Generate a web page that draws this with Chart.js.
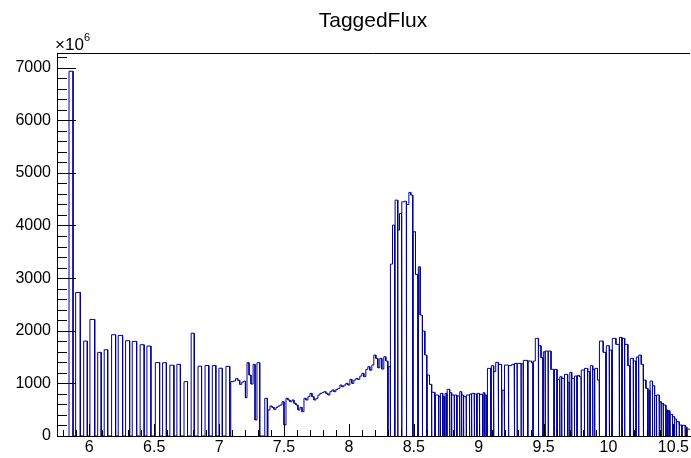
<!DOCTYPE html>
<html>
<head>
<meta charset="utf-8">
<script src="https://cdn.jsdelivr.net/npm/chart.js@4.4.0/dist/chart.umd.min.js"></script>
<style>
  html, body { margin: 0; padding: 0; background: #fff; }
</style>
</head>
<body>
<canvas id="c" width="691" height="458"></canvas>
<script>
// tagged photon flux (x10^6) vs beam energy
// bins are [low edge, high edge, flux]; gaps between bins are empty bins
const lowComb = [
  [5.844, 5.875, 6930], [5.895, 5.931, 2728], [5.957, 5.985, 1804], [6.005, 6.042, 2215],
  [6.065, 6.092, 1589], [6.115, 6.142, 1639], [6.172, 6.203, 1924], [6.223, 6.257, 1911],
  [6.280, 6.311, 1810], [6.331, 6.365, 1797], [6.392, 6.423, 1734], [6.444, 6.475, 1709],
  [6.509, 6.542, 1395], [6.565, 6.594, 1392], [6.621, 6.652, 1345], [6.675, 6.702, 1361],
  [6.730, 6.757, 1032], [6.785, 6.809, 1953], [6.838, 6.865, 1326], [6.892, 6.921, 1339],
  [6.948, 6.975, 1339], [6.999, 7.025, 1288], [7.053, 7.082, 1323]
]

const plateau = [
  [7.090, 7.108, 1032], [7.108, 7.126, 1044], [7.126, 7.144, 1089], [7.144, 7.159, 1057],
  [7.159, 7.175, 982], [7.175, 7.190, 1025], [7.190, 7.203, 1044], [7.203, 7.215, 727],
  [7.215, 7.231, 1392], [7.231, 7.246, 1158], [7.246, 7.262, 987], [7.262, 7.277, 1361],
  [7.277, 7.292, 304], [7.292, 7.313, 1392],
  [7.352, 7.372, 716]
]

// continuous stretch with fixed bin width
const rampStart = 7.377
const rampBin = 0.01538
const rampFlux = [
  494, 570, 545, 507, 545, 570, 589, 651, 209, 716,
  684, 651, 684, 621, 589, 494, 545, 462, 716, 684,
  747, 810, 747, 684, 716, 779, 810, 823, 842, 810,
  779, 842, 874, 842, 886, 905, 968, 937, 968, 1000,
  968, 1076, 1000, 1063, 1095, 1076, 1139, 1190, 1127, 1266,
  1317, 1250, 1348, 1538, 1475, 1297, 1475, 1272, 1506, 1424
]

const peak = [
  [8.302, 8.318, 1316], [8.321, 8.336, 3266], [8.336, 8.352, 4007], [8.356, 8.375, 4482],
  [8.378, 8.390, 3912], [8.390, 8.405, 4229], [8.409, 8.426, 4450], [8.426, 8.442, 4460],
  [8.445, 8.462, 4400], [8.462, 8.477, 4628], [8.477, 8.492, 4577], [8.495, 8.513, 3880],
  [8.513, 8.532, 3071], [8.535, 8.549, 3215], [8.549, 8.565, 2298], [8.568, 8.585, 1994],
  [8.585, 8.600, 1538], [8.603, 8.621, 1158], [8.621, 8.636, 982], [8.639, 8.662, 830]
]

const shelf = [
  [8.666, 8.690, 779], [8.693, 8.703, 747], [8.706, 8.723, 810], [8.727, 8.738, 747],
  [8.741, 8.754, 810], [8.757, 8.775, 886], [8.778, 8.790, 823], [8.793, 8.811, 779],
  [8.814, 8.831, 779], [8.834, 8.852, 760], [8.855, 8.867, 842], [8.870, 8.882, 779],
  [8.885, 8.903, 747], [8.906, 8.928, 779], [8.931, 8.944, 798], [8.947, 8.965, 810],
  [8.968, 8.985, 798], [8.988, 9.005, 810], [9.008, 9.031, 791], [9.034, 9.046, 823],
  [9.049, 9.062, 779], [9.064, 9.069, 810]
]

const highComb = [
  [9.069, 9.093, 1285], [9.097, 9.113, 1336], [9.117, 9.131, 1222], [9.131, 9.150, 1399],
  [9.154, 9.176, 1361], [9.180, 9.196, 870], [9.200, 9.228, 1348], [9.232, 9.254, 1336],
  [9.254, 9.273, 1361], [9.277, 9.295, 1380], [9.298, 9.326, 1380], [9.328, 9.342, 1370],
  [9.345, 9.377, 1437], [9.380, 9.408, 1424], [9.408, 9.418, 1390], [9.421, 9.436, 1424],
  [9.436, 9.459, 1855], [9.462, 9.480, 1715], [9.480, 9.495, 1487], [9.498, 9.511, 1601],
  [9.514, 9.534, 1614], [9.537, 9.557, 1614], [9.557, 9.580, 1266], [9.583, 9.603, 1266],
  [9.606, 9.623, 1076], [9.626, 9.638, 1127], [9.641, 9.659, 1095], [9.662, 9.685, 1171],
  [9.688, 9.700, 1019], [9.703, 9.715, 1209], [9.718, 9.736, 1095], [9.739, 9.757, 1139],
  [9.760, 9.775, 1150], [9.775, 9.788, 1127], [9.791, 9.813, 1253], [9.816, 9.838, 1285],
  [9.841, 9.857, 1222], [9.860, 9.877, 1336], [9.880, 9.892, 1260], [9.895, 9.915, 1285],
  [9.915, 9.928, 1063], [9.931, 9.959, 1804], [9.959, 9.980, 1589], [9.983, 10.005, 1715],
  [10.008, 10.026, 1633], [10.029, 10.057, 1855], [10.057, 10.082, 1741], [10.085, 10.103, 1874],
  [10.106, 10.123, 1855], [10.126, 10.149, 1741], [10.149, 10.165, 1336], [10.168, 10.190, 1475],
  [10.193, 10.211, 1424], [10.214, 10.231, 1500], [10.234, 10.252, 1538], [10.252, 10.267, 1361],
  [10.270, 10.288, 1063], [10.288, 10.303, 905], [10.305, 10.318, 874], [10.320, 10.338, 1044],
  [10.340, 10.354, 955], [10.356, 10.369, 766], [10.371, 10.390, 780], [10.392, 10.405, 651],
  [10.407, 10.421, 621], [10.423, 10.442, 589], [10.444, 10.457, 494], [10.459, 10.472, 480],
  [10.474, 10.492, 411], [10.494, 10.508, 367], [10.510, 10.523, 323], [10.525, 10.544, 272],
  [10.546, 10.565, 209], [10.567, 10.590, 203], [10.592, 10.603, 171], [10.605, 10.640, 130]
]

const xTicks = [6, 6.5, 7, 7.5, 8, 8.5, 9, 9.5, 10, 10.5]
const xTickLabels = ['6', '6.5', '7', '7.5', '8', '8.5', '9', '9.5', '10', '10.5']
const yTicks = [0, 1000, 2000, 3000, 4000, 5000, 6000, 7000]
const yTickLabels = ['0', '1000', '2000', '3000', '4000', '5000', '6000', '7000']

const xMin = 5.7515
const xMax = 10.628
const yMax = 7277

// ramp -> bins
const ramp = rampFlux.map((v, i) => [rampStart + i * rampBin, rampStart + (i + 1) * rampBin, v])

const bins = [].concat(lowComb, plateau, ramp, peak, shelf, highComb)

// histogram outline, drops to zero wherever bins don't touch
const outline = []
let prevHi = null
bins.forEach(([lo, hi, v]) => {
  if (prevHi === null || lo > prevHi + 1e-6) {
    if (prevHi !== null) outline.push({ x: prevHi, y: 0 })
    outline.push({ x: lo, y: 0 })
  }
  outline.push({ x: lo, y: v })
  outline.push({ x: hi, y: v })
  prevHi = hi
})
outline.push({ x: prevHi, y: 0 })

const font = 'Liberation Sans, Arial, Helvetica, sans-serif'

const rootFrame = {
  id: 'rootFrame',
  afterDraw (chart) {
    const { ctx, chartArea: a, scales: { x, y } } = chart
    ctx.save()
    ctx.strokeStyle = '#000'
    ctx.lineWidth = 1
    ctx.beginPath()
    ctx.moveTo(a.left, a.top + 0.5)
    ctx.lineTo(a.right, a.top + 0.5)
    // y ticks inside the frame
    for (let v = 0; v <= yMax; v += 200) {
      const py = Math.round(y.getPixelForValue(v)) + 0.5
      const len = v % 1000 === 0 ? 19 : 10
      ctx.moveTo(a.left, py)
      ctx.lineTo(a.left + len, py)
    }
    // x ticks
    for (let i = 58; i <= 106; i++) {
      const px = Math.round(x.getPixelForValue(i / 10)) + 0.5
      const len = i % 5 === 0 ? 12 : 6
      ctx.moveTo(px, a.bottom)
      ctx.lineTo(px, a.bottom - len)
    }
    ctx.stroke()

    ctx.fillStyle = '#000'
    ctx.textBaseline = 'alphabetic'
    ctx.textAlign = 'center'
    ctx.font = '21px ' + font
    ctx.fillText('TaggedFlux', 373, 27)
    ctx.textAlign = 'left'
    ctx.font = '17px ' + font
    ctx.fillText('\u00d710', 55, 50)
    ctx.font = '11px ' + font
    ctx.fillText('6', 84, 41)
    ctx.restore()
  }
}

new Chart(document.getElementById('c'), {
  type: 'line',
  data: {
    datasets: [{
      data: outline,
      borderColor: '#000099',
      borderWidth: 1,
      pointRadius: 0,
      fill: false,
      tension: 0
    }]
  },
  options: {
    responsive: false,
    animation: false,
    layout: { padding: { top: 53, left: 0, right: 0, bottom: 0 } },
    plugins: { legend: { display: false }, tooltip: { enabled: false } },
    scales: {
      x: {
        type: 'linear',
        min: xMin,
        max: xMax,
        grid: { display: false, drawTicks: false },
        border: { color: '#000', width: 1 },
        afterBuildTicks: s => { s.ticks = xTicks.map(v => ({ value: v })) },
        afterFit: s => { s.height = 22 },
        ticks: {
          autoSkip: false,
          maxRotation: 0,
          padding: 2,
          color: '#000',
          font: { family: font, size: 16 },
          callback: (v, i) => xTickLabels[i]
        }
      },
      y: {
        min: 0,
        max: yMax,
        grid: { display: false, drawTicks: false },
        border: { color: '#000', width: 1 },
        afterBuildTicks: s => { s.ticks = yTicks.map(v => ({ value: v })) },
        afterFit: s => { s.width = 57 },
        ticks: {
          padding: 6,
          color: '#000',
          font: { family: font, size: 16 },
          callback: (v, i) => yTickLabels[i]
        }
      }
    }
  },
  plugins: [rootFrame]
})
</script>
</body>
</html>
